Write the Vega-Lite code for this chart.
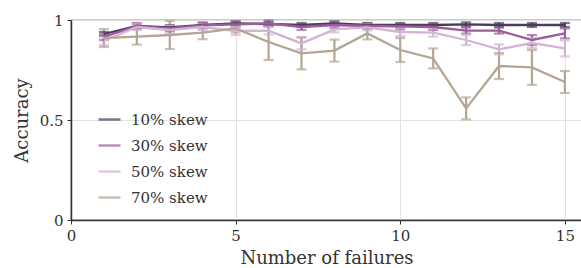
{
  "$schema": "https://vega.github.io/schema/vega-lite/v6.json",
  "width": 511,
  "height": 200,
  "autosize": "none",
  "padding": {"left": 71, "top": 20, "right": 0, "bottom": 48},
  "config": {
    "font": "DejaVu Serif",
    "view": {"stroke": "#333333", "strokeWidth": 1.2},
    "axis": {"labelFont": "DejaVu Serif", "titleFont": "DejaVu Serif", "labelFontSize": 15, "titleFontSize": 18, "titleFontWeight": "normal", "labelColor": "#333333", "titleColor": "#333333", "domainColor": "#333333", "tickColor": "#333333", "gridColor": "#e2e2e2", "domainWidth": 1.5},
    "legend": {"labelFont": "DejaVu Serif", "labelFontSize": 15, "labelColor": "#333333"}
  },
  "data": {"values": [
    {"x":1,"s":"10% skew","v":0.93,"lo":0.92,"hi":0.94},
    {"x":2,"s":"10% skew","v":0.97,"lo":0.96,"hi":0.98},
    {"x":3,"s":"10% skew","v":0.963,"lo":0.953,"hi":0.973},
    {"x":4,"s":"10% skew","v":0.975,"lo":0.965,"hi":0.985},
    {"x":5,"s":"10% skew","v":0.983,"lo":0.973,"hi":0.993},
    {"x":6,"s":"10% skew","v":0.98,"lo":0.97,"hi":0.99},
    {"x":7,"s":"10% skew","v":0.975,"lo":0.965,"hi":0.985},
    {"x":8,"s":"10% skew","v":0.983,"lo":0.973,"hi":0.993},
    {"x":9,"s":"10% skew","v":0.975,"lo":0.965,"hi":0.985},
    {"x":10,"s":"10% skew","v":0.975,"lo":0.965,"hi":0.985},
    {"x":11,"s":"10% skew","v":0.975,"lo":0.965,"hi":0.985},
    {"x":12,"s":"10% skew","v":0.978,"lo":0.968,"hi":0.988},
    {"x":13,"s":"10% skew","v":0.975,"lo":0.965,"hi":0.985},
    {"x":14,"s":"10% skew","v":0.975,"lo":0.965,"hi":0.985},
    {"x":15,"s":"10% skew","v":0.975,"lo":0.965,"hi":0.985},
    {"x":1,"s":"30% skew","v":0.915,"lo":0.9,"hi":0.93},
    {"x":2,"s":"30% skew","v":0.97,"lo":0.955,"hi":0.985},
    {"x":3,"s":"30% skew","v":0.958,"lo":0.943,"hi":0.973},
    {"x":4,"s":"30% skew","v":0.973,"lo":0.958,"hi":0.988},
    {"x":5,"s":"30% skew","v":0.978,"lo":0.963,"hi":0.993},
    {"x":6,"s":"30% skew","v":0.983,"lo":0.968,"hi":0.998},
    {"x":7,"s":"30% skew","v":0.965,"lo":0.95,"hi":0.98},
    {"x":8,"s":"30% skew","v":0.975,"lo":0.96,"hi":0.99},
    {"x":9,"s":"30% skew","v":0.97,"lo":0.955,"hi":0.985},
    {"x":10,"s":"30% skew","v":0.968,"lo":0.953,"hi":0.983},
    {"x":11,"s":"30% skew","v":0.965,"lo":0.95,"hi":0.98},
    {"x":12,"s":"30% skew","v":0.947,"lo":0.932,"hi":0.962},
    {"x":13,"s":"30% skew","v":0.947,"lo":0.932,"hi":0.962},
    {"x":14,"s":"30% skew","v":0.9,"lo":0.875,"hi":0.925},
    {"x":15,"s":"30% skew","v":0.933,"lo":0.908,"hi":0.958},
    {"x":1,"s":"50% skew","v":0.895,"lo":0.875,"hi":0.915},
    {"x":2,"s":"50% skew","v":0.965,"lo":0.95,"hi":0.98},
    {"x":3,"s":"50% skew","v":0.95,"lo":0.93,"hi":0.97},
    {"x":4,"s":"50% skew","v":0.965,"lo":0.95,"hi":0.98},
    {"x":5,"s":"50% skew","v":0.945,"lo":0.925,"hi":0.965},
    {"x":6,"s":"50% skew","v":0.947,"lo":0.927,"hi":0.967},
    {"x":7,"s":"50% skew","v":0.883,"lo":0.853,"hi":0.913},
    {"x":8,"s":"50% skew","v":0.953,"lo":0.938,"hi":0.968},
    {"x":9,"s":"50% skew","v":0.963,"lo":0.948,"hi":0.978},
    {"x":10,"s":"50% skew","v":0.94,"lo":0.92,"hi":0.96},
    {"x":11,"s":"50% skew","v":0.937,"lo":0.917,"hi":0.957},
    {"x":12,"s":"50% skew","v":0.9,"lo":0.875,"hi":0.925},
    {"x":13,"s":"50% skew","v":0.853,"lo":0.828,"hi":0.878},
    {"x":14,"s":"50% skew","v":0.885,"lo":0.86,"hi":0.91},
    {"x":15,"s":"50% skew","v":0.858,"lo":0.818,"hi":0.898},
    {"x":1,"s":"70% skew","v":0.91,"lo":0.865,"hi":0.955},
    {"x":2,"s":"70% skew","v":0.917,"lo":0.877,"hi":0.957},
    {"x":3,"s":"70% skew","v":0.925,"lo":0.855,"hi":0.995},
    {"x":4,"s":"70% skew","v":0.937,"lo":0.904,"hi":0.97},
    {"x":5,"s":"70% skew","v":0.958,"lo":0.938,"hi":0.978},
    {"x":6,"s":"70% skew","v":0.89,"lo":0.8,"hi":0.98},
    {"x":7,"s":"70% skew","v":0.833,"lo":0.753,"hi":0.913},
    {"x":8,"s":"70% skew","v":0.847,"lo":0.792,"hi":0.902},
    {"x":9,"s":"70% skew","v":0.933,"lo":0.903,"hi":0.963},
    {"x":10,"s":"70% skew","v":0.85,"lo":0.79,"hi":0.91},
    {"x":11,"s":"70% skew","v":0.808,"lo":0.758,"hi":0.858},
    {"x":12,"s":"70% skew","v":0.558,"lo":0.503,"hi":0.613},
    {"x":13,"s":"70% skew","v":0.77,"lo":0.705,"hi":0.835},
    {"x":14,"s":"70% skew","v":0.763,"lo":0.676,"hi":0.85},
    {"x":15,"s":"70% skew","v":0.69,"lo":0.635,"hi":0.745}
  ]},
  "encoding": {
    "x": {"field": "x", "type": "quantitative", "scale": {"domain": [0, 15.52], "nice": false, "zero": false},
      "axis": {"values": [0, 5, 10, 15], "title": "Number of failures", "tickSize": 4, "labelPadding": 4, "titlePadding": 6, "labelFlush": false}},
    "color": {"field": "s", "type": "nominal",
      "scale": {"domain": ["10% skew", "30% skew", "50% skew", "70% skew"], "range": ["#4a3d5c", "#9c5c9c", "#d4b4d4", "#b4a594"]},
      "legend": {"orient": "none", "legendX": 26, "legendY": 87, "title": null, "symbolType": "stroke", "symbolSize": 484, "symbolStrokeWidth": 2.5, "rowPadding": 5, "labelOffset": 9}}
  },
  "layer": [
    {"mark": {"type": "rule", "strokeWidth": 2.2},
     "encoding": {"y": {"field": "lo", "type": "quantitative"}, "y2": {"field": "hi"}}},
    {"mark": {"type": "tick", "orient": "horizontal", "size": 10, "thickness": 2.2},
     "encoding": {"y": {"field": "lo", "type": "quantitative"}}},
    {"mark": {"type": "tick", "orient": "horizontal", "size": 10, "thickness": 2.2},
     "encoding": {"y": {"field": "hi", "type": "quantitative"}}},
    {"mark": {"type": "line", "strokeWidth": 2.3},
     "encoding": {"y": {"field": "v", "type": "quantitative", "scale": {"domain": [0, 1], "nice": false},
       "axis": {"values": [0, 0.5, 1], "format": "~g", "title": "Accuracy", "tickSize": 4, "labelPadding": 4, "titlePadding": 8, "labelFlush": false}}}}
  ]
}
